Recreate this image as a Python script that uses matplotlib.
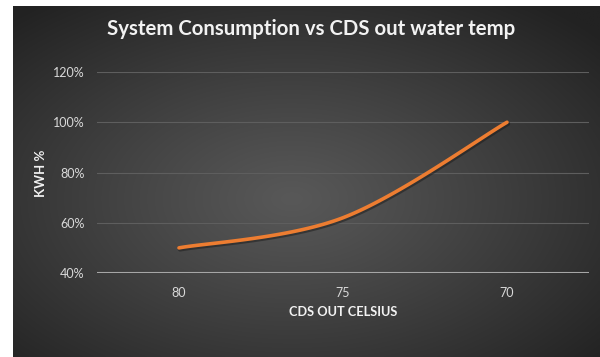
import numpy as np
import matplotlib
matplotlib.use("Agg")
import matplotlib.pyplot as plt

categories = ["80", "75", "70"]
kwh_pct = [0.50, 0.62, 1.00]
y_ticks = [0.4, 0.6, 0.8, 1.0, 1.2]
y_tick_labels = ["40%", "60%", "80%", "100%", "120%"]

W, H = 600, 357
fig = plt.figure(figsize=(W / 100, H / 100), dpi=100)
fig.patch.set_facecolor("white")

# background radial gradient
bg = fig.add_axes([13 / W, 0, (W - 13) / W, (H - 6) / H])
nx, ny = 300, 180
xx, yy = np.meshgrid(np.linspace(-1, 1, nx), np.linspace(-1, 1, ny))
r = np.sqrt((xx + 0.05) ** 2 + (yy - 0.1) ** 2) / np.sqrt(2)
val = 0x58 - (0x58 - 0x22) * np.clip(r, 0, 1) ** 1.1
img = np.dstack([val, val, val]) / 255.0
bg.imshow(img, aspect="auto", extent=[0, 1, 0, 1], interpolation="bilinear")
bg.set_axis_off()

left, right, top, bottom = 97, 589, 72, 273
ax = fig.add_axes([left / W, 1 - bottom / H, (right - left) / W, (bottom - top) / H])
ax.patch.set_alpha(0)
ax.set_xlim(-0.5, 2.5)
ax.set_ylim(0.4, 1.2)

font = "Lato"
ax.set_yticks(y_ticks)
ax.set_yticklabels(y_tick_labels, fontsize=9, color="#d9d9d9", fontfamily=font)
ax.set_xticks(range(len(categories)))
ax.set_xticklabels(categories, fontsize=9, color="#d9d9d9", fontfamily=font)
ax.tick_params(length=0, pad=9)
ax.tick_params(axis="x", pad=10)
for s in ax.spines.values():
    s.set_visible(False)
for yv in y_ticks[1:]:
    ax.axhline(yv, color="#5e5e5e", lw=0.8, zorder=1)
ax.axhline(0.4, color="#a6a6a6", lw=1.5, zorder=2)

# Excel-style smoothed line (cubic Bezier)
xs = np.arange(len(kwh_pct), dtype=float)
ys = np.array(kwh_pct)
px, py = [], []
t = np.linspace(0, 1, 60)
n = len(xs)
for i in range(n - 1):
    p0 = np.array([xs[i], ys[i]])
    p3 = np.array([xs[i + 1], ys[i + 1]])
    pm = np.array([xs[max(i - 1, 0)], ys[max(i - 1, 0)]])
    pp = np.array([xs[min(i + 2, n - 1)], ys[min(i + 2, n - 1)]])
    c1 = p0 + (p3 - pm) / 6
    c2 = p3 - (pp - p0) / 6
    b = ((1 - t) ** 3)[:, None] * p0 + (3 * (1 - t) ** 2 * t)[:, None] * c1 \
        + (3 * (1 - t) * t ** 2)[:, None] * c2 + (t ** 3)[:, None] * p3
    px.extend(b[:, 0]); py.extend(b[:, 1])
ax.plot(np.array(px) + 0.006, np.array(py) - 0.006, color="#1a1a1a", lw=3.2,
        alpha=0.5, solid_capstyle="round", zorder=3)
ax.plot(px, py, color="#ED7D31", lw=2.6, solid_capstyle="round", zorder=4)

fig.text(311 / W, 1 - 29 / H, "System Consumption vs CDS out water temp",
         ha="center", va="center", fontsize=14.7, fontweight="bold",
         color="#f2f2f2", fontfamily=font)
fig.text(343 / W, 1 - 312 / H, "CDS OUT CELSIUS", ha="center", va="center",
         fontsize=9.2, fontweight="bold", color="#f2f2f2", fontfamily=font)
fig.text(41 / W, 1 - 173 / H, "KWH %", ha="center", va="center", rotation=90,
         fontsize=9.5, fontweight="bold", color="#f2f2f2", fontfamily=font)

fig.savefig("out.png", dpi=100, facecolor="white")
